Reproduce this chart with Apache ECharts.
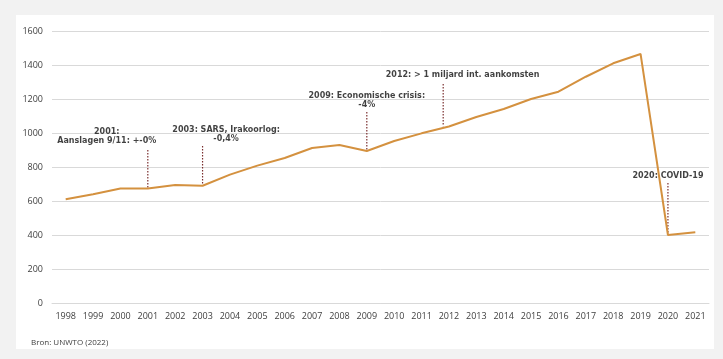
<!DOCTYPE html>
<html>
<head>
<meta charset="utf-8">
<script src="https://cdn.jsdelivr.net/npm/echarts@6/dist/echarts.min.js"></script>
<style>
html,body{margin:0;padding:0;background:#f2f2f2;}
#c{width:723px;height:359px;}
</style>
</head>
<body>
<div id="c"></div>
<script>
var years = ['1998','1999','2000','2001','2002','2003','2004','2005','2006','2007','2008','2009','2010','2011','2012','2013','2014','2015','2016','2017','2018','2019','2020','2021'];
var arrivals = [610,640,674,674,694,690,755,808,853,912,929,894,953,998,1038,1094,1141,1200,1243,1331,1410,1465,400,416];
var yTicks = {min:0, max:1600, interval:200};

var annoTexts = ['2001:\nAanslagen 9/11: +-0%', '2003: SARS, Irakoorlog:\n-0,4%', '2009: Economische crisis:\n-4%', '2012: > 1 miljard int. aankomsten', '2020: COVID-19'];
var annoTextPos = [[1999.5,979],[2003.86,991],[2009,1194],[2012.5,1341],[2020,747]];
var annoLineX = [2001, 2003, 2009, 2011.79, 2020];
var annoLineTop = [900, 924, 1124, 1288, 706];
var annoLineBottom = [674, 690, 894, 1040, 400];
var source = 'Bron: UNWTO (2022)';

var chart = echarts.init(document.getElementById('c'), null, {renderer:'canvas'});
var series = [{
  type:'line', data:arrivals, symbol:'none', xAxisIndex:0, yAxisIndex:0,
  lineStyle:{color:'#d4913f', width:2}, itemStyle:{color:'#d4913f'}, z:3, silent:true
}];
for (var i=0;i<annoLineX.length;i++){
  series.push({
    type:'line', xAxisIndex:1, yAxisIndex:0, symbol:'none', silent:true, z:2,
    data:[[annoLineX[i], annoLineTop[i]],[annoLineX[i], annoLineBottom[i]]],
    lineStyle:{color:'#7a2e2e', width:1.2, type:[1.5,1.5]}
  });
}
series.push({
  type:'scatter', xAxisIndex:1, yAxisIndex:0, symbolSize:0, silent:true, z:4,
  data: annoTextPos.map(function(p,i){return {value:p, label:{formatter:annoTexts[i]}};}),
  label:{show:true, position:'inside', color:'#111', fontFamily:'DejaVu Sans', fontWeight:'bold', fontSize:8, lineHeight:9, align:'center'}
});

chart.setOption({
  backgroundColor:'#f2f2f2',
  animation:false,
  graphic:[
    {type:'rect', shape:{x:16,y:15,width:698,height:334}, style:{fill:'#ffffff'}, z:-10},
    {type:'text', left:31, top:339, style:{text:source, fill:'#404040', font:'8px "Open Sans"'}}
  ],
  grid:{left:52, right:14, top:31, bottom:56},
  xAxis:[{
    type:'category', data:years, boundaryGap:true,
    axisLine:{show:true, lineStyle:{color:'#d9d9d9', width:1}},
    axisTick:{show:false},
    axisLabel:{color:'#404040', fontFamily:'Open Sans', fontSize:9, margin:9, interval:0}
  },{
    type:'value', min:1997.5, max:2021.5, show:false
  }],
  yAxis:[{
    type:'value', min:yTicks.min, max:yTicks.max, interval:yTicks.interval,
    axisLine:{show:false}, axisTick:{show:false},
    splitLine:{lineStyle:{color:'#d9d9d9', width:1}},
    axisLabel:{color:'#404040', fontFamily:'Open Sans', fontSize:9, margin:9, formatter:function(v){return String(v);}}
  }],
  series:series
});
</script>
</body>
</html>
